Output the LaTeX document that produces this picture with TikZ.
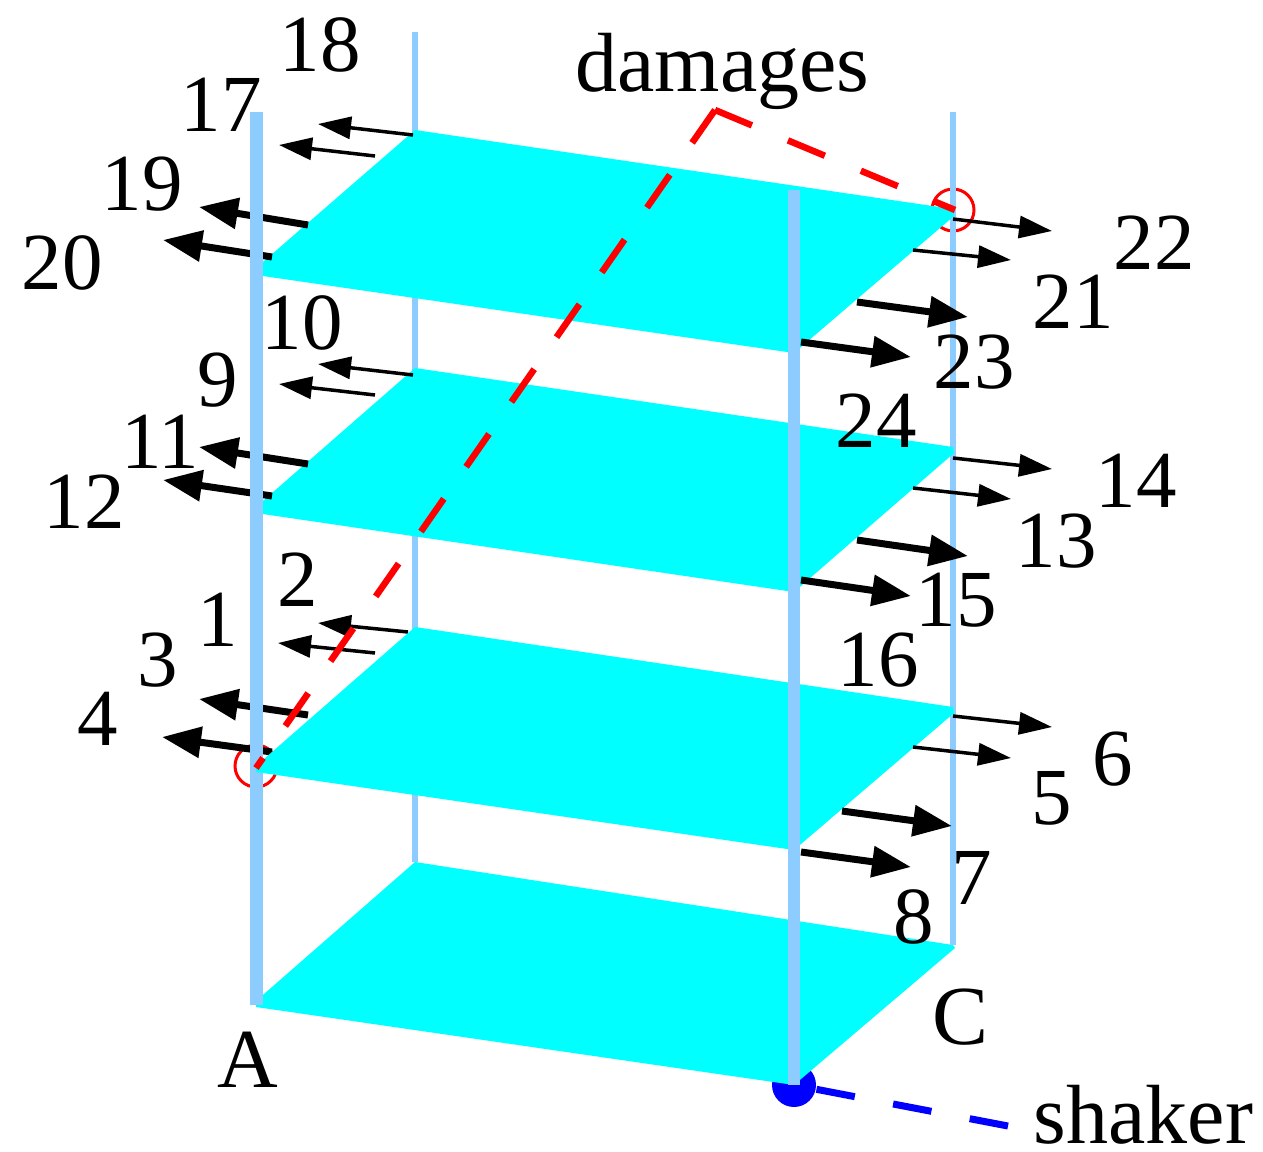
\documentclass[tikz,border=0pt]{standalone}
\usepackage{fontspec}
\setmainfont{Liberation Serif}
\usetikzlibrary{arrows.meta}
\definecolor{column}{RGB}{140,204,255}
\definecolor{slabc}{RGB}{0,255,255}
\tikzset{
  slab/.style={fill=slabc,draw=none},
  colthick/.style={draw=column,line width=13pt},
  colfront/.style={draw=column,line width=12pt},
  colthin/.style={draw=column,line width=6pt},
  thinarrow/.style={draw=black,line width=3.5pt,-{Triangle[length=33pt,width=22pt]}},
  thickarrow/.style={draw=black,line width=7pt,-{Triangle[length=39pt,width=30pt]}},
  reddash/.style={draw=red,line width=6.5pt,dash pattern=on 40pt off 39pt},
  bluedash/.style={draw=blue,line width=7pt,dash pattern=on 39pt off 39pt},
  ring/.style={draw=red,line width=3pt,circle,minimum size=42pt,inner sep=0pt},
  lab/.style={inner sep=0pt,font=\fontsize{81pt}{81pt}\selectfont},
  word/.style={inner sep=0pt,font=\fontsize{84pt}{84pt}\selectfont},
  lbase/.style={word,anchor=base,text depth=0pt}
}
\begin{document}
\begin{tikzpicture}[x=1pt,y=-1pt]
\useasboundingbox (0,0) rectangle (1263,1151);
% back column
\coordinate (bt) at (415,32); \coordinate (bb) at (415,862);
\draw[colthin] (bt) -- (bb);
% rings at the damaged joints
\node[ring] (ringA) at (256,766) {};
\node[ring] (ringC) at (953,210) {};
% shaker
\node[circle,fill=blue,minimum size=44pt,inner sep=0pt] (shk) at (794,1085) {};
\coordinate (shkend) at (1008,1126);
\draw[bluedash] (shkend) -- (shk.center);
% bottom slab, then column C
\fill[slab] (415,862) -- (953,945) -- (955,948) -- (794,1085) -- (256,1007) -- (256,1001) -- cycle;
\coordinate (ct) at (953,112); \coordinate (cb) at (953,945);
\draw[colthin] (ct) -- (cb);
% upper slabs
\fill[slab] (415,130) -- (953,209) -- (954,216) -- (794,353) -- (256,275) -- (256,268) -- cycle;
\fill[slab] (415,368) -- (953,447) -- (954,453) -- (794,592) -- (256,513) -- (256,507) -- cycle;
% left arrows
\foreach \nm/\a/\b/\c/\d/\sty in {
 n18/413/135/318/124/thinarrow, n17/375/156/279/145/thinarrow,
 n19/308/225/199/207/thickarrow, n20/272/257/163/240/thickarrow,
 n10/413/375/318/364/thinarrow, n9/375/395/279/384/thinarrow,
 n11/308/464/199/447/thickarrow, n12/272/496/163/480/thickarrow,
 n2/408/632/318/623/thinarrow, n1/375/653/278/643/thinarrow,
 n3/308/715/199/699/thickarrow, n4/272/752/162/737/thickarrow}{
  \coordinate (\nm s) at (\a,\b);
  \coordinate (\nm e) at (\c,\d);
  \draw[\sty] (\nm s) -- (\nm e);
}
% column A
\coordinate (at) at (256.5,112); \coordinate (ab) at (256.5,1005);
\draw[colthick] (at) -- (ab);
% third slab lies over column A
\fill[slab] (415,627) -- (953,707) -- (954,713) -- (794,850) -- (256,772) -- (256,766) -- cycle;
% column B
\coordinate (ft) at (794,190); \coordinate (fb) at (794,1085);
\draw[colfront] (ft) -- (fb);
% right arrows
\foreach \nm/\a/\b/\c/\d/\sty in {
 n22/953/219/1052/231/thinarrow, n21/913/250/1011/260/thinarrow,
 n23/857/302/968/317/thickarrow, n24/801/342/911/357/thickarrow,
 n14/953/458/1052/469/thinarrow, n13/913/488/1011/499/thinarrow,
 n15/857/540/968/556/thickarrow, n16/801/580/911/596/thickarrow,
 n6/953/716/1052/727/thinarrow, n5/913/747/1011/758/thinarrow,
 n7/842/811/952/826/thickarrow, n8/801/852/911/867/thickarrow}{
  \coordinate (\nm s) at (\a,\b);
  \coordinate (\nm e) at (\c,\d);
  \draw[\sty] (\nm s) -- (\nm e);
}
% damage path
\coordinate (dmg) at (715,110);
\coordinate (dA) at (256,768);
\coordinate (dC) at (955,210);
\draw[reddash] (dmg) -- (dA);
\draw[reddash] (dmg) -- (dC);
% labels
\node[lab] (l18) at (320,45) {18};
\node[lab] (l17) at (221,105) {17};
\node[lab] (l19) at (142,184) {19};
\node[lab] (l20) at (62,263) {20};
\node[lab] (l10) at (302,323) {10};
\node[lab] (l9) at (218,380) {9};
\node[lab] (l11) at (160,442) {11};
\node[lab] (l12) at (84,502) {12};
\node[lab] (l2) at (298,580) {2};
\node[lab] (l1) at (218,620) {1};
\node[lab] (l3) at (158,660) {3};
\node[lab] (l4) at (98,719) {4};
\node[lbase] (ldmg) at (722.5,91) {damages};
\node[lab] (l22) at (1154,243) {22};
\node[lab] (l21) at (1073,302) {21};
\node[lab] (l23) at (974,362) {23};
\node[lab] (l24) at (876,421) {24};
\node[lab] (l14) at (1136,481) {14};
\node[lab] (l13) at (1056,541) {13};
\node[lab] (l15) at (956,600) {15};
\node[lab] (l16) at (878,660) {16};
\node[lab] (l6) at (1113,759) {6};
\node[lab] (l5) at (1052,798) {5};
\node[lab] (l7) at (972,878) {7};
\node[lab] (l8) at (914,917) {8};
\node[word] (lA) at (248,1060) {A};
\node[word] (lC) at (961,1017) {C};
\node[lbase] (lshk) at (1143.5,1143) {shaker};
\end{tikzpicture}
\end{document}
